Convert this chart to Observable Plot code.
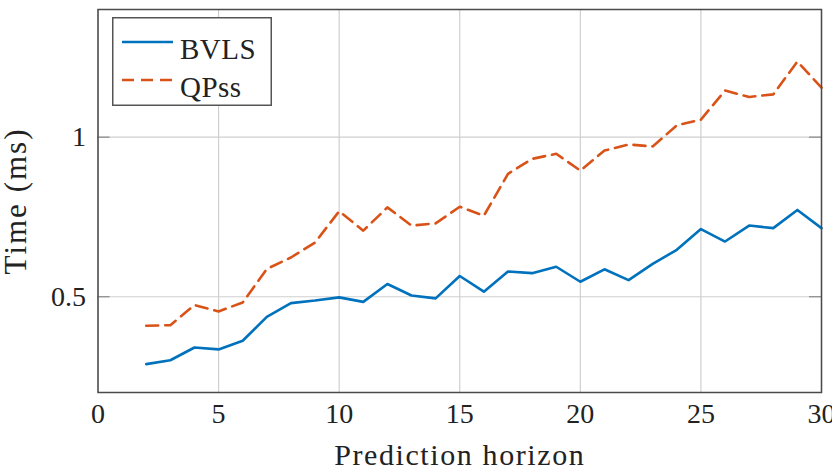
<!DOCTYPE html>
<html>
<head>
<meta charset="utf-8">
<script src="https://cdn.jsdelivr.net/npm/d3@7"></script>
<script src="https://cdn.jsdelivr.net/npm/@observablehq/plot@0.6"></script>
<style>
  html, body { margin: 0; padding: 0; background: #fff; }
  #chart { position: relative; width: 832px; height: 467px; overflow: hidden; }
  #legend { position: absolute; left: 112px; top: 17px; }
</style>
</head>
<body>
<div id="chart"></div>
<script>
// Solve time versus prediction horizon for the two solvers
const horizon = [2, 3, 4, 5, 6, 7, 8, 9, 10, 11, 12, 13, 14, 15, 16,
                 17, 18, 19, 20, 21, 22, 23, 24, 25, 26, 27, 28, 29, 30];
const bvls = [0.289, 0.301, 0.341, 0.335, 0.362, 0.437, 0.480, 0.488, 0.498, 0.484,
              0.540, 0.504, 0.495, 0.565, 0.516, 0.579, 0.574, 0.594, 0.547, 0.586,
              0.552, 0.603, 0.647, 0.712, 0.673, 0.723, 0.715, 0.772, 0.715];
const qpss = [0.409, 0.411, 0.474, 0.454, 0.482, 0.587, 0.623, 0.670, 0.768, 0.707,
              0.780, 0.723, 0.730, 0.782, 0.754, 0.885, 0.932, 0.948, 0.895, 0.958,
              0.977, 0.971, 1.037, 1.055, 1.146, 1.126, 1.134, 1.237, 1.155];
const xTicks = [0, 5, 10, 15, 20, 25, 30];
const yTicks = [0.5, 1];
const yTickLabels = ["0.5", "1"];
const seriesNames = ["BVLS", "QPss"];

const blue = "#0072BD";
const orange = "#D95319";
const font = "'Liberation Serif', serif";

const rows = (ys) => horizon.map((h, i) => ({h, t: ys[i]}));

const chart = Plot.plot({
  width: 832,
  height: 467,
  marginLeft: 97.5,
  marginRight: 11,
  marginTop: 9,
  marginBottom: 75,
  style: {fontFamily: font, fontSize: "28px", color: "#222", background: "#fff"},
  x: {domain: [0, 30]},
  y: {domain: [0.2, 1.4]},
  marks: [
    Plot.gridX(xTicks, {stroke: "#cfcfcf", strokeOpacity: 1, strokeWidth: 1.2}),
    Plot.gridY(yTicks, {stroke: "#cfcfcf", strokeOpacity: 1, strokeWidth: 1.2}),
    // short inward tick marks on the left and right edges
    Plot.ruleY(yTicks, {x1: 0, x2: 0.5, stroke: "#888", strokeWidth: 1.2}),
    Plot.ruleY(yTicks, {x1: 29.5, x2: 30, stroke: "#888", strokeWidth: 1.2}),
    Plot.axisX(xTicks, {
      tickSize: 0, tickPadding: 11,
      label: "Prediction horizon", labelAnchor: "center", labelArrow: "none"
    }),
    Plot.axisY(yTicks, {
      tickSize: 0, tickPadding: 12,
      tickFormat: (d, i) => yTickLabels[i],
      label: "Time (ms)", labelAnchor: "center", labelArrow: "none"
    }),
    Plot.line(rows(bvls), {x: "h", y: "t", stroke: blue, strokeWidth: 2.6}),
    Plot.line(rows(qpss), {x: "h", y: "t", stroke: orange, strokeWidth: 2.6, strokeDasharray: "12,7"}),
    Plot.frame({stroke: "#4a4a4a", strokeWidth: 1.5})
  ]
});

// slightly larger, wider-set axis titles
d3.select(chart).selectAll('g[aria-label="x-axis label"] text')
  .style("font-size", "30px").style("letter-spacing", "1.6px");
d3.select(chart).selectAll('g[aria-label="y-axis label"] text')
  .style("font-size", "31px").style("letter-spacing", "2px");

const host = document.getElementById("chart");
host.appendChild(chart);

// Legend box in the top-left corner of the plot area
const legend = d3.create("svg")
  .attr("id", "legend")
  .attr("width", 161)
  .attr("height", 90)
  .style("font-family", font)
  .style("font-size", "29px");
legend.append("rect")
  .attr("x", 0.75).attr("y", 0.75).attr("width", 158.5).attr("height", 87.5)
  .attr("fill", "#fff").attr("stroke", "#555").attr("stroke-width", 1.5);
const entries = [
  {name: seriesNames[0], color: blue, dash: null, y: 25},
  {name: seriesNames[1], color: orange, dash: "12,7", y: 63}
];
for (const e of entries) {
  legend.append("line")
    .attr("x1", 10).attr("x2", 61).attr("y1", e.y).attr("y2", e.y)
    .attr("stroke", e.color).attr("stroke-width", 2.6)
    .attr("stroke-dasharray", e.dash);
  legend.append("text")
    .attr("x", 68).attr("y", e.y + 8).attr("dy", "0.32em")
    .attr("fill", "#222")
    .style("letter-spacing", "0.5px")
    .text(e.name);
}
host.appendChild(legend.node());
</script>
</body>
</html>
